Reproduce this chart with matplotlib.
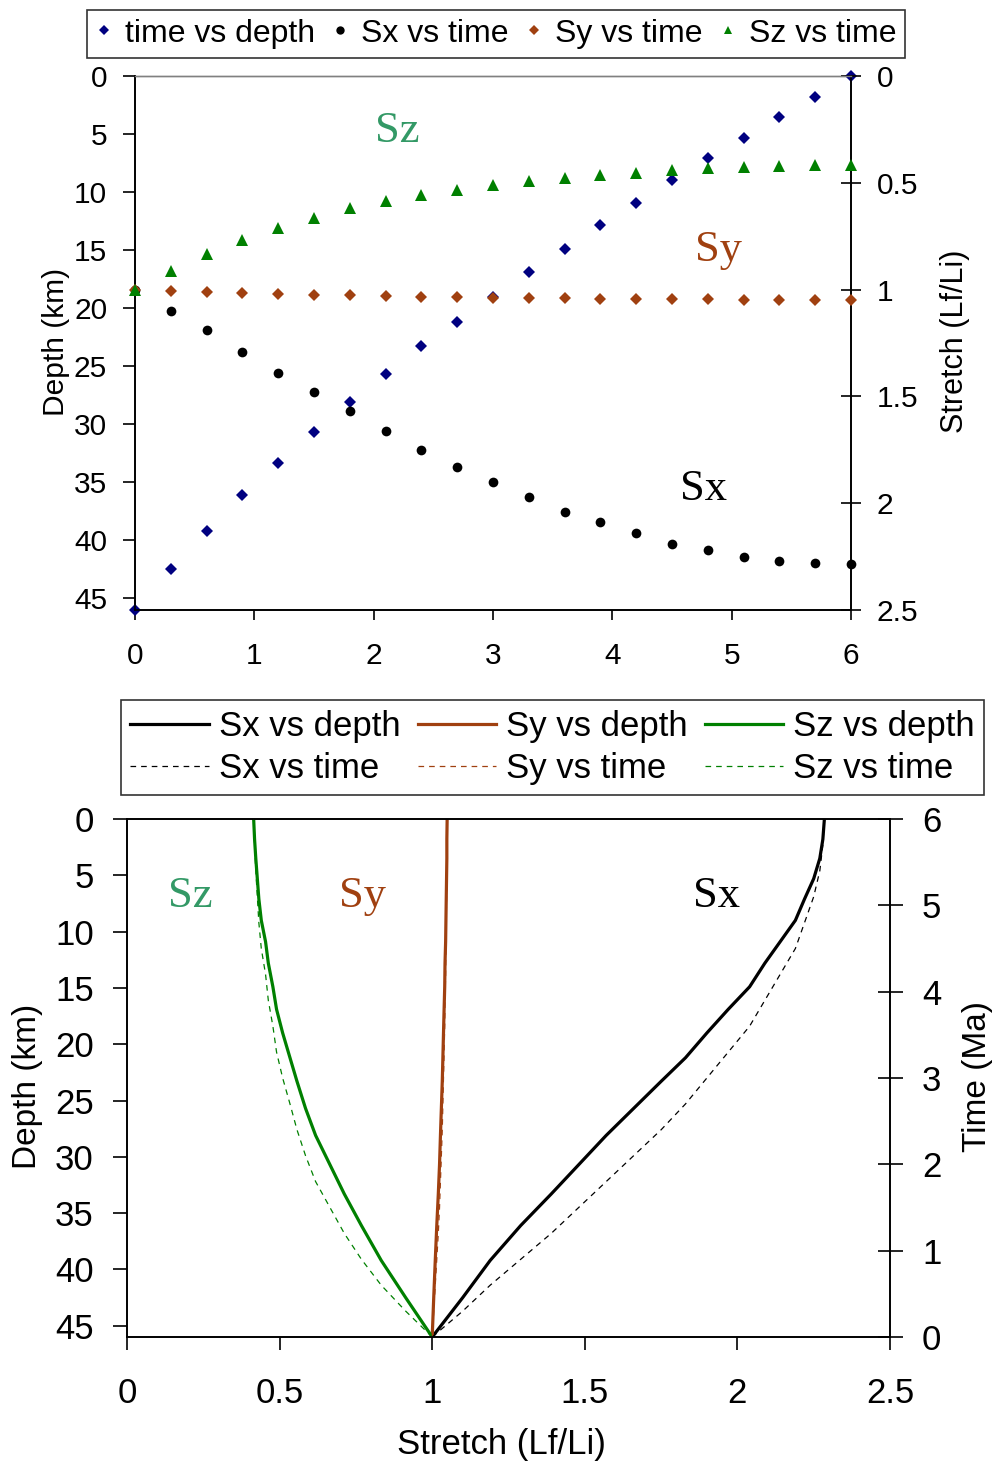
import matplotlib
matplotlib.use("Agg")
import matplotlib.pyplot as plt
from matplotlib.lines import Line2D

plt.rcParams["font.family"] = ["Liberation Sans", "DejaVu Sans"]

# model output, sampled every 0.3 Ma
time = [0.0, 0.3, 0.6, 0.9, 1.2, 1.5, 1.8, 2.1, 2.4, 2.7, 3.0,
        3.3, 3.6, 3.9, 4.2, 4.5, 4.8, 5.1, 5.4, 5.7, 6.0]
depth = [46.0, 42.5, 39.2, 36.1, 33.3, 30.7, 28.1, 25.7, 23.3, 21.2, 19.0,
         16.9, 14.9, 12.8, 10.9, 9.0, 7.1, 5.3, 3.5, 1.8, 0.0]
sx = [1.00, 1.10, 1.19, 1.29, 1.39, 1.48, 1.57, 1.66, 1.75, 1.83, 1.90,
      1.97, 2.04, 2.09, 2.14, 2.19, 2.22, 2.25, 2.27, 2.28, 2.285]
sy = [1.00, 1.005, 1.01, 1.015, 1.02, 1.024, 1.027, 1.03, 1.033, 1.035, 1.037,
      1.039, 1.041, 1.042, 1.044, 1.045, 1.046, 1.047, 1.048, 1.048, 1.049]
sz = [1.00, 0.913, 0.833, 0.768, 0.712, 0.665, 0.618, 0.585, 0.557, 0.534, 0.51,
      0.49, 0.478, 0.463, 0.454, 0.44, 0.432, 0.427, 0.422, 0.418, 0.415]

NAVY = "#000080"
BROWN = "#A04010"
GREEN = "#008000"
SZ_TXT = "#339966"

fig = plt.figure(figsize=(9.92, 14.61), dpi=100)

# ---------------- upper panel: scatter vs time ----------------
ax1 = fig.add_axes([135 / 992, 1 - 610 / 1461, 716 / 992, 534 / 1461])
ax1r = ax1.twinx()

ax1.plot(time, depth, "D", color=NAVY, ms=6.5, mew=0, clip_on=False, zorder=5)
ax1r.plot(time, sx, "o", color="black", ms=7, mew=0, clip_on=False, zorder=5)
ax1r.plot(time, sy, "D", color=BROWN, ms=6.5, mew=0, clip_on=False, zorder=6)
ax1r.plot(time, sz, "^", color=GREEN, ms=8, mew=0, clip_on=False, zorder=6)

ax1.set_xlim(0, 6)
ax1.set_ylim(46, 0)
ax1r.set_ylim(2.5, 0)
ax1.set_xticks(range(7))
ax1.set_yticks(range(0, 46, 5))
ax1r.set_yticks([0, 0.5, 1, 1.5, 2, 2.5])
ax1r.set_yticklabels(["0", "0.5", "1", "1.5", "2", "2.5"])

for a in (ax1, ax1r):
    for sp in a.spines.values():
        sp.set_linewidth(1.2)
    a.spines["top"].set_color("#808080")
    a.spines["top"].set_linewidth(1.0)
ax1.tick_params(axis="x", direction="out", length=7, width=1.2, pad=16, labelsize=21.5)
ax1.tick_params(axis="y", direction="out", length=9, width=1.2, pad=11, labelsize=21.5)
ax1r.tick_params(axis="y", direction="inout", length=15, width=1.2, pad=11, labelsize=21.5)

ax1.set_ylabel("Depth (km)", fontsize=21.5)
ax1.yaxis.set_label_coords(-0.091, 0.502)
ax1r.set_ylabel("Stretch (Lf/Li)", fontsize=22)
ax1r.yaxis.set_label_coords(1.124, 0.504)

ax1.text(2.195, 4.75, "Sz", family="Liberation Serif", fontsize=32, color=SZ_TXT,
         ha="center", va="center")
ax1.text(4.885, 15.0, "Sy", family="Liberation Serif", fontsize=32, color=BROWN,
         ha="center", va="center")
ax1.text(4.76, 35.6, "Sx", family="Liberation Serif", fontsize=32, color="black",
         ha="center", va="center")

top_handles = [
    Line2D([], [], ls="none", marker="D", color=NAVY, ms=5, mew=0),
    Line2D([], [], ls="none", marker="o", color="black", ms=6, mew=0),
    Line2D([], [], ls="none", marker="D", color=BROWN, ms=5, mew=0),
    Line2D([], [], ls="none", marker="^", color=GREEN, ms=6, mew=0),
]
top_labels = ["time vs depth", "Sx vs time", "Sy vs time", "Sz vs time"]
leg1 = fig.legend(top_handles, top_labels, loc="center", bbox_to_anchor=(0.5, 0.977),
                  ncol=4, fontsize=23, frameon=True, fancybox=False, edgecolor="black",
                  handlelength=0.5, handletextpad=0.4, columnspacing=0.55,
                  borderpad=0.28, borderaxespad=0)
leg1.get_frame().set_linewidth(1.2)

# ---------------- lower panel: stretch vs depth / time ----------------
ax2 = fig.add_axes([127 / 992, 1 - 1337 / 1461, 763 / 992, 518 / 1461])
ax2r = ax2.twinx()

dash = (4.5, 4)
sx_d, = ax2.plot(sx, depth, color="black", lw=2.3)
sy_d, = ax2.plot(sy, depth, color=BROWN, lw=2.3)
sz_d, = ax2.plot(sz, depth, color=GREEN, lw=2.3)
sx_t, = ax2r.plot(sx, time, color="black", lw=0.9, dashes=dash)
sy_t, = ax2r.plot(sy, time, color=BROWN, lw=0.9, dashes=dash)
sz_t, = ax2r.plot(sz, time, color=GREEN, lw=0.9, dashes=dash)

ax2.set_xlim(0, 2.5)
ax2.set_ylim(46, 0)
ax2r.set_ylim(0, 6)
ax2.set_xticks([0, 0.5, 1, 1.5, 2, 2.5])
ax2.set_xticklabels(["0", "0.5", "1", "1.5", "2", "2.5"])
ax2.set_yticks(range(0, 46, 5))
ax2r.set_yticks(range(7))

for a in (ax2, ax2r):
    for sp in a.spines.values():
        sp.set_linewidth(1.2)
ax2.tick_params(axis="x", direction="out", length=9, width=1.2, pad=20, labelsize=25)
ax2.tick_params(axis="y", direction="out", length=10, width=1.2, pad=14, labelsize=25)
ax2r.tick_params(axis="y", direction="inout", length=18, width=1.2, pad=14, labelsize=25)

ax2.set_ylabel("Depth (km)", fontsize=24)
ax2.yaxis.set_label_coords(-0.110, 0.483)
ax2r.set_ylabel("Time (Ma)", fontsize=24)
ax2r.yaxis.set_label_coords(1.095, 0.502)
ax2.set_xlabel("Stretch (Lf/Li)", fontsize=25)
ax2.xaxis.set_label_coords(0.491, -0.176)

ax2.text(0.206, 6.8, "Sz", family="Liberation Serif", fontsize=32, color=SZ_TXT,
         ha="center", va="center")
ax2.text(0.773, 6.8, "Sy", family="Liberation Serif", fontsize=32, color=BROWN,
         ha="center", va="center")
ax2.text(1.93, 6.8, "Sx", family="Liberation Serif", fontsize=32, color="black",
         ha="center", va="center")

bot_handles = [sx_d, sx_t, sy_d, sy_t, sz_d, sz_t]
bot_labels = ["Sx vs depth", "Sx vs time", "Sy vs depth", "Sy vs time",
              "Sz vs depth", "Sz vs time"]
leg2 = fig.legend(bot_handles, bot_labels, loc="center", bbox_to_anchor=(0.557, 0.4884),
                  ncol=3, fontsize=25, frameon=True, fancybox=False, edgecolor="black",
                  handlelength=2.25, handletextpad=0.29, columnspacing=0.5,
                  labelspacing=0.25, borderpad=0.28, borderaxespad=0)
leg2.get_frame().set_linewidth(1.2)

fig.savefig("out.png", dpi=100)
